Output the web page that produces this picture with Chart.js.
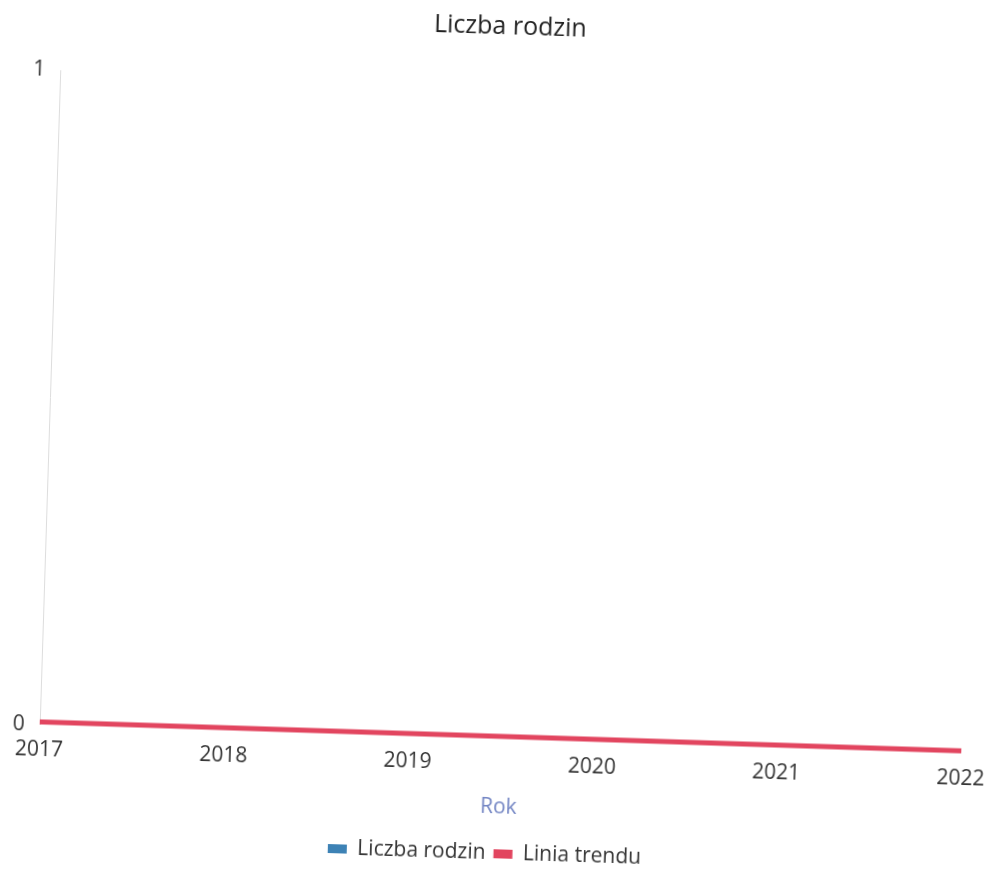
<!DOCTYPE html>
<html>
<head>
<meta charset="utf-8">
<script src="https://cdn.jsdelivr.net/npm/chart.js@4"></script>
<style>
  html, body { margin:0; padding:0; background:#fff; overflow:hidden; }
  #wrap { width:1000px; height:874px; transform:rotate(1.8deg); transform-origin:493px 435px; }
</style>
</head>
<body>
<div id="wrap"><canvas id="chart" width="1000" height="874"></canvas></div>
<script>
const years = ["2017", "2018", "2019", "2020", "2021", "2022"];
const familyCounts = [0, 0, 0, 0, 0, 0];
const trendValues = [0, 0, 0, 0, 0, 0];

const font = "'Open Sans', sans-serif";

const chart = new Chart(document.getElementById("chart"), {
  data: {
    labels: years,
    datasets: [
      {
        type: 'bar',
        label: "Liczba rodzin",
        data: familyCounts,
        backgroundColor: "#3d82b5",
        borderColor: "#3d82b5"
      },
      {
        type: 'line',
        label: "Linia trendu",
        data: trendValues,
        borderColor: "#e2455f",
        backgroundColor: "#e2455f",
        borderWidth: 10,
        pointRadius: 0,
        tension: 0
      }
    ]
  },
  options: {
    responsive: false,
    animation: false,
    layout: { padding: { left: 15, right: 20, top: 0, bottom: 0 } },
    plugins: {
      title: {
        display: true,
        text: "Liczba rodzin",
        color: "#222",
        font: { family: font, size: 25, weight: 'normal' },
        padding: { top: 12, bottom: 42 }
      },
      legend: {
        position: 'bottom',
        labels: {
          color: "#333",
          font: { family: font, size: 21 },
          boxWidth: 19,
          boxHeight: 9,
          padding: 8,
          generateLabels: function(c) {
            const items = Chart.defaults.plugins.legend.labels.generateLabels(c);
            items.forEach(it => { it.lineWidth = 0; });
            return items;
          }
        }
      },
      tooltip: { enabled: false }
    },
    scales: {
      x: {
        offset: false,
        grid: { display: false },
        border: { display: false },
        ticks: { color: "#333", font: { family: font, size: 21 }, maxRotation: 0, padding: 5 },
        title: {
          display: true,
          text: "Rok",
          color: "#7486c4",
          font: { family: font, size: 21 },
          padding: { top: 13, bottom: 15 }
        }
      },
      y: {
        min: 0,
        max: 1,
        grid: { display: false },
        border: { display: true, color: "#ddd" },
        ticks: { stepSize: 1, color: "#333", font: { family: font, size: 21 }, padding: 7 }
      }
    }
  }
});
</script>
</body>
</html>
